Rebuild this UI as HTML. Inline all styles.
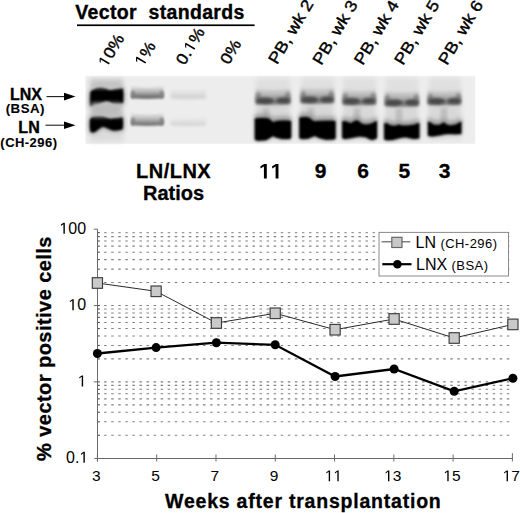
<!DOCTYPE html>
<html><head><meta charset="utf-8"><style>
html,body{margin:0;padding:0;background:#fff;width:520px;height:513px;overflow:hidden}
svg{display:block}
text{font-family:"Liberation Sans",sans-serif}
</style></head><body><svg width="520" height="513" viewBox="0 0 520 513"><defs><filter id="b8" x="-50%" y="-50%" width="200%" height="200%"><feGaussianBlur stdDeviation="0.85"/></filter><filter id="b9" x="-50%" y="-50%" width="200%" height="200%"><feGaussianBlur stdDeviation="0.9"/></filter><filter id="b12" x="-50%" y="-50%" width="200%" height="200%"><feGaussianBlur stdDeviation="1.2"/></filter><filter id="b13" x="-50%" y="-50%" width="200%" height="200%"><feGaussianBlur stdDeviation="1.3"/></filter><filter id="b14" x="-50%" y="-50%" width="200%" height="200%"><feGaussianBlur stdDeviation="1.4"/></filter><filter id="b16" x="-50%" y="-50%" width="200%" height="200%"><feGaussianBlur stdDeviation="1.6"/></filter><filter id="b18" x="-50%" y="-50%" width="200%" height="200%"><feGaussianBlur stdDeviation="1.8"/></filter><filter id="b20" x="-50%" y="-50%" width="200%" height="200%"><feGaussianBlur stdDeviation="2.0"/></filter><filter id="b22" x="-50%" y="-50%" width="200%" height="200%"><feGaussianBlur stdDeviation="2.2"/></filter><filter id="b25" x="-50%" y="-50%" width="200%" height="200%"><feGaussianBlur stdDeviation="2.5"/></filter><filter id="b28" x="-50%" y="-50%" width="200%" height="200%"><feGaussianBlur stdDeviation="2.8"/></filter></defs><rect x="85.5" y="76.2" width="389.7" height="67.5" fill="#ededed"/><rect x="89.5" y="78" width="34" height="64" fill="#dcdcdc" opacity="1" filter="url(#b25)"/><rect x="256" y="78" width="34" height="62" fill="#e0e0e0" opacity="1" filter="url(#b22)"/><rect x="301" y="78" width="33.39999999999998" height="62" fill="#e0e0e0" opacity="1" filter="url(#b22)"/><rect x="343.3" y="78" width="32.69999999999999" height="62" fill="#e0e0e0" opacity="1" filter="url(#b22)"/><rect x="385.6" y="78" width="32.599999999999966" height="62" fill="#e0e0e0" opacity="1" filter="url(#b22)"/><rect x="429" y="78" width="32" height="62" fill="#e0e0e0" opacity="1" filter="url(#b22)"/><path d="M90.5,92.0 L92.3,90.3 L94.7,89.1 L98.6,87.1 L102.4,87.3 L106.3,88.7 L109.3,90.3 L112.4,90.0 L116.2,89.1 L120.0,88.3 L123.0,88.7 L123.3,95.9 L123.1,102.9 L122.3,103.1 L117.7,103.9 L112.4,103.4 L109.3,101.4 L106.3,101.0 L102.4,102.2 L98.6,103.9 L94.7,105.5 L91.7,105.9 L90.4,105.4 L90.2,98.2 Z" fill="#2a2a2a" opacity="0.8" filter="url(#b28)"/><path d="M90.5,92.0 L92.3,90.3 L94.7,89.1 L98.6,87.1 L102.4,87.3 L106.3,88.7 L109.3,90.3 L112.4,90.0 L116.2,89.1 L120.0,88.3 L123.0,88.7 L123.3,95.9 L123.1,102.9 L122.3,103.1 L117.7,103.9 L112.4,103.4 L109.3,101.4 L106.3,101.0 L102.4,102.2 L98.6,103.9 L94.7,105.5 L91.7,105.9 L90.4,105.4 L90.2,98.2 Z" fill="#060606" opacity="1" filter="url(#b9)"/><path d="M90.0,119.6 L91.8,117.6 L94.4,116.3 L98.5,115.5 L102.8,115.9 L106.5,117.4 L110.4,118.7 L113.3,118.3 L117.0,117.7 L121.4,117.3 L122.7,117.8 L122.9,122.9 L122.7,129.2 L117.5,130.2 L113.0,130.6 L108.1,128.5 L104.4,126.8 L102.0,126.7 L98.6,129.1 L95.5,131.5 L93.4,132.4 L90.5,132.1 L89.9,126.3 Z" fill="#2a2a2a" opacity="0.8" filter="url(#b28)"/><path d="M90.0,119.6 L91.8,117.6 L94.4,116.3 L98.5,115.5 L102.8,115.9 L106.5,117.4 L110.4,118.7 L113.3,118.3 L117.0,117.7 L121.4,117.3 L122.7,117.8 L122.9,122.9 L122.7,129.2 L117.5,130.2 L113.0,130.6 L108.1,128.5 L104.4,126.8 L102.0,126.7 L98.6,129.1 L95.5,131.5 L93.4,132.4 L90.5,132.1 L89.9,126.3 Z" fill="#060606" opacity="1" filter="url(#b9)"/><rect x="91.5" y="103" width="30" height="14" fill="#bcbcbc" opacity="1" filter="url(#b22)"/><rect x="91" y="80.5" width="31" height="7.5" fill="#c2c2c2" opacity="1" filter="url(#b20)"/><linearGradient id="g13" x1="0" y1="0" x2="0" y2="1"><stop offset="0" stop-color="#c0c0c0" stop-opacity="0.15"/><stop offset="0.4" stop-color="#c0c0c0"/><stop offset="0.82" stop-color="#727272"/><stop offset="1" stop-color="#727272"/></linearGradient><path d="M131.1,85.5 L133.1,86.5 Q147.3,88.5 161.5,86.5 L163.5,85.5 L163.5,98.3 Q147.3,99.89999999999999 131.1,98.3 Z" fill="url(#g13)" opacity="1" filter="url(#b12)"/><linearGradient id="g15" x1="0" y1="0" x2="0" y2="1"><stop offset="0" stop-color="#c6c6c6" stop-opacity="0.15"/><stop offset="0.4" stop-color="#c6c6c6"/><stop offset="0.82" stop-color="#7c7c7c"/><stop offset="1" stop-color="#7c7c7c"/></linearGradient><path d="M131.1,112.5 L133.1,113.5 Q147.3,115.5 161.5,113.5 L163.5,112.5 L163.5,125.2 Q147.3,126.8 131.1,125.2 Z" fill="url(#g15)" opacity="1" filter="url(#b12)"/><ellipse cx="133.0" cy="94.5" rx="2.2" ry="4.0" fill="#808080" opacity="0.8" filter="url(#b13)"/><ellipse cx="161.8" cy="94.5" rx="2.2" ry="4.0" fill="#808080" opacity="0.8" filter="url(#b13)"/><ellipse cx="133.0" cy="121.5" rx="2.2" ry="4.0" fill="#808080" opacity="0.8" filter="url(#b13)"/><ellipse cx="161.8" cy="121.5" rx="2.2" ry="4.0" fill="#808080" opacity="0.8" filter="url(#b13)"/><linearGradient id="g21" x1="0" y1="0" x2="0" y2="1"><stop offset="0" stop-color="#e2e2e2" stop-opacity="0.15"/><stop offset="0.4" stop-color="#e2e2e2"/><stop offset="0.82" stop-color="#d2d2d2"/><stop offset="1" stop-color="#d2d2d2"/></linearGradient><path d="M170.6,88 L172.6,89 Q188.3,91 204,89 L206,88 L206,98.5 Q188.3,100.1 170.6,98.5 Z" fill="url(#g21)" opacity="1" filter="url(#b14)"/><linearGradient id="g23" x1="0" y1="0" x2="0" y2="1"><stop offset="0" stop-color="#e4e4e4" stop-opacity="0.15"/><stop offset="0.4" stop-color="#e4e4e4"/><stop offset="0.82" stop-color="#d6d6d6"/><stop offset="1" stop-color="#d6d6d6"/></linearGradient><path d="M170.6,116.5 L172.6,117.5 Q188.3,119.5 204,117.5 L206,116.5 L206,125.5 Q188.3,127.1 170.6,125.5 Z" fill="url(#g23)" opacity="1" filter="url(#b14)"/><rect x="257.5" y="102" width="31.0" height="18.5" fill="#d8d8d8" opacity="1" filter="url(#b22)"/><linearGradient id="g26" x1="0" y1="0" x2="0" y2="1"><stop offset="0" stop-color="#b9b9b9" stop-opacity="0.15"/><stop offset="0.4" stop-color="#b9b9b9"/><stop offset="0.82" stop-color="#7e7e7e"/><stop offset="1" stop-color="#7e7e7e"/></linearGradient><path d="M255.5,87.5 L257.5,88.5 Q273.0,90.5 288.5,88.5 L290.5,87.5 L290.5,104 Q273.0,105.6 255.5,104 Z" fill="url(#g26)" opacity="1" filter="url(#b18)"/><ellipse cx="258.3" cy="98.2" rx="2.8" ry="6.2" fill="#5e5e5e" opacity="0.55" filter="url(#b16)"/><ellipse cx="287.7" cy="97.8" rx="2.8" ry="6.2" fill="#5e5e5e" opacity="0.55" filter="url(#b16)"/><ellipse cx="265.3" cy="100.8" rx="8.8" ry="3.2" fill="#3c3c3c" opacity="0.85" filter="url(#b18)"/><ellipse cx="282.8" cy="100.5" rx="7.0" ry="3.0" fill="#3c3c3c" opacity="0.85" filter="url(#b18)"/><rect x="302.5" y="101" width="29.5" height="18.5" fill="#d8d8d8" opacity="1" filter="url(#b22)"/><linearGradient id="g33" x1="0" y1="0" x2="0" y2="1"><stop offset="0" stop-color="#b9b9b9" stop-opacity="0.15"/><stop offset="0.4" stop-color="#b9b9b9"/><stop offset="0.82" stop-color="#7e7e7e"/><stop offset="1" stop-color="#7e7e7e"/></linearGradient><path d="M300.5,86.5 L302.5,87.5 Q317.25,89.5 332,87.5 L334,86.5 L334,103 Q317.25,104.6 300.5,103 Z" fill="url(#g33)" opacity="1" filter="url(#b18)"/><ellipse cx="303.3" cy="97.2" rx="2.8" ry="6.2" fill="#5e5e5e" opacity="0.55" filter="url(#b16)"/><ellipse cx="331.2" cy="96.8" rx="2.8" ry="6.2" fill="#5e5e5e" opacity="0.55" filter="url(#b16)"/><ellipse cx="309.9" cy="99.8" rx="8.4" ry="3.2" fill="#3c3c3c" opacity="0.85" filter="url(#b18)"/><ellipse cx="326.6" cy="99.5" rx="6.7" ry="3.0" fill="#3c3c3c" opacity="0.85" filter="url(#b18)"/><rect x="344.5" y="102.5" width="29.5" height="20.5" fill="#d8d8d8" opacity="1" filter="url(#b22)"/><linearGradient id="g40" x1="0" y1="0" x2="0" y2="1"><stop offset="0" stop-color="#b9b9b9" stop-opacity="0.15"/><stop offset="0.4" stop-color="#b9b9b9"/><stop offset="0.82" stop-color="#7e7e7e"/><stop offset="1" stop-color="#7e7e7e"/></linearGradient><path d="M342.5,88.5 L344.5,89.5 Q359.25,91.5 374,89.5 L376,88.5 L376,104.5 Q359.25,106.1 342.5,104.5 Z" fill="url(#g40)" opacity="1" filter="url(#b18)"/><ellipse cx="345.3" cy="99.0" rx="2.8" ry="6.0" fill="#5e5e5e" opacity="0.55" filter="url(#b16)"/><ellipse cx="373.2" cy="98.5" rx="2.8" ry="6.0" fill="#5e5e5e" opacity="0.55" filter="url(#b16)"/><ellipse cx="351.9" cy="101.3" rx="8.4" ry="3.2" fill="#3c3c3c" opacity="0.85" filter="url(#b18)"/><ellipse cx="368.6" cy="101.0" rx="6.7" ry="3.0" fill="#3c3c3c" opacity="0.85" filter="url(#b18)"/><rect x="386.7" y="104" width="30.30000000000001" height="19.400000000000006" fill="#d8d8d8" opacity="1" filter="url(#b22)"/><linearGradient id="g47" x1="0" y1="0" x2="0" y2="1"><stop offset="0" stop-color="#b9b9b9" stop-opacity="0.15"/><stop offset="0.4" stop-color="#b9b9b9"/><stop offset="0.82" stop-color="#7e7e7e"/><stop offset="1" stop-color="#7e7e7e"/></linearGradient><path d="M384.7,90 L386.7,91 Q401.85,93 417,91 L419,90 L419,106 Q401.85,107.6 384.7,106 Z" fill="url(#g47)" opacity="1" filter="url(#b18)"/><ellipse cx="387.5" cy="100.5" rx="2.8" ry="6.0" fill="#5e5e5e" opacity="0.55" filter="url(#b16)"/><ellipse cx="416.2" cy="100.0" rx="2.8" ry="6.0" fill="#5e5e5e" opacity="0.55" filter="url(#b16)"/><ellipse cx="394.3" cy="102.8" rx="8.6" ry="3.2" fill="#3c3c3c" opacity="0.85" filter="url(#b18)"/><ellipse cx="411.5" cy="102.5" rx="6.9" ry="3.0" fill="#3c3c3c" opacity="0.85" filter="url(#b18)"/><rect x="429.5" y="102.5" width="29.69999999999999" height="20.900000000000006" fill="#d8d8d8" opacity="1" filter="url(#b22)"/><linearGradient id="g54" x1="0" y1="0" x2="0" y2="1"><stop offset="0" stop-color="#b9b9b9" stop-opacity="0.15"/><stop offset="0.4" stop-color="#b9b9b9"/><stop offset="0.82" stop-color="#7e7e7e"/><stop offset="1" stop-color="#7e7e7e"/></linearGradient><path d="M427.5,89 L429.5,90 Q444.35,92 459.2,90 L461.2,89 L461.2,104.5 Q444.35,106.1 427.5,104.5 Z" fill="url(#g54)" opacity="1" filter="url(#b18)"/><ellipse cx="430.3" cy="99.2" rx="2.8" ry="5.8" fill="#5e5e5e" opacity="0.55" filter="url(#b16)"/><ellipse cx="458.4" cy="98.8" rx="2.8" ry="5.8" fill="#5e5e5e" opacity="0.55" filter="url(#b16)"/><ellipse cx="436.9" cy="101.3" rx="8.4" ry="3.2" fill="#3c3c3c" opacity="0.85" filter="url(#b18)"/><ellipse cx="453.8" cy="101.0" rx="6.7" ry="3.0" fill="#3c3c3c" opacity="0.85" filter="url(#b18)"/><rect x="263.5" y="108" width="5" height="14" fill="#b4b4b4" opacity="1" filter="url(#b20)"/><path d="M254.8,114.6 L256.0,113.8 L262.0,113.5 L268.0,113.8 L271.0,115.7 L273.0,117.8 L275.0,116.9 L278.0,116.2 L285.0,116.0 L290.0,116.2 L291.2,117.1 L291.2,123.6 L290.0,122.7 L285.0,122.5 L278.0,122.7 L275.0,123.4 L273.0,124.3 L271.0,122.2 L268.0,120.3 L262.0,120.0 L256.0,120.3 L254.8,121.1 Z" fill="#9a9a9a" opacity="0.8" filter="url(#b20)"/><path d="M254.8,119.1 L256.0,118.3 L262.0,118.0 L268.0,118.3 L271.0,120.2 L273.0,122.3 L275.0,121.4 L278.0,120.7 L285.0,120.5 L290.0,120.7 L291.2,121.6 L291.2,138.0 L289.5,139.1 L282.0,139.1 L276.0,137.5 L273.0,135.9 L270.0,138.0 L266.0,140.3 L258.0,140.7 L255.5,140.3 L254.8,139.0 Z" fill="#3a3a3a" opacity="0.55" filter="url(#b20)"/><path d="M254.8,119.1 L256.0,118.3 L262.0,118.0 L268.0,118.3 L271.0,120.2 L273.0,122.3 L275.0,121.4 L278.0,120.7 L285.0,120.5 L290.0,120.7 L291.2,121.6 L291.2,138.0 L289.5,139.1 L282.0,139.1 L276.0,137.5 L273.0,135.9 L270.0,138.0 L266.0,140.3 L258.0,140.7 L255.5,140.3 L254.8,139.0 Z" fill="#060606" opacity="1" filter="url(#b8)"/><rect x="308.5" y="108" width="5" height="14" fill="#b4b4b4" opacity="1" filter="url(#b20)"/><path d="M299.3,113.6 L300.5,112.8 L306.0,112.6 L309.5,113.3 L312.0,115.4 L314.0,116.7 L318.0,116.4 L325.0,116.3 L333.0,116.2 L335.6,116.8 L335.6,123.3 L333.0,122.7 L325.0,122.8 L318.0,122.9 L314.0,123.2 L312.0,121.9 L309.5,119.8 L306.0,119.1 L300.5,119.3 L299.3,120.1 Z" fill="#9a9a9a" opacity="0.8" filter="url(#b20)"/><path d="M299.3,118.1 L300.5,117.3 L306.0,117.1 L309.5,117.8 L312.0,119.9 L314.0,121.2 L318.0,120.9 L325.0,120.8 L333.0,120.7 L335.6,121.3 L335.6,138.5 L334.0,139.5 L326.0,139.7 L319.0,138.0 L315.0,135.9 L312.0,137.0 L308.0,138.8 L302.0,139.0 L299.6,138.5 L299.3,137.5 Z" fill="#3a3a3a" opacity="0.55" filter="url(#b20)"/><path d="M299.3,118.1 L300.5,117.3 L306.0,117.1 L309.5,117.8 L312.0,119.9 L314.0,121.2 L318.0,120.9 L325.0,120.8 L333.0,120.7 L335.6,121.3 L335.6,138.5 L334.0,139.5 L326.0,139.7 L319.0,138.0 L315.0,135.9 L312.0,137.0 L308.0,138.8 L302.0,139.0 L299.6,138.5 L299.3,137.5 Z" fill="#060606" opacity="1" filter="url(#b8)"/><rect x="354.5" y="108" width="5" height="14" fill="#b4b4b4" opacity="1" filter="url(#b20)"/><path d="M342.2,117.1 L344.0,116.4 L347.0,117.3 L350.7,118.8 L353.5,117.1 L356.5,115.8 L358.5,116.4 L360.5,118.1 L362.6,119.6 L366.0,119.9 L370.0,119.4 L373.6,118.1 L376.1,116.4 L377.0,117.1 L377.0,123.6 L376.1,122.9 L373.6,124.6 L370.0,125.9 L366.0,126.4 L362.6,126.1 L360.5,124.6 L358.5,122.9 L356.5,122.3 L353.5,123.6 L350.7,125.3 L347.0,123.8 L344.0,122.9 L342.2,123.6 Z" fill="#9a9a9a" opacity="0.8" filter="url(#b20)"/><path d="M342.2,121.6 L344.0,120.9 L347.0,121.8 L350.7,123.3 L353.5,121.6 L356.5,120.3 L358.5,120.9 L360.5,122.6 L362.6,124.1 L366.0,124.4 L370.0,123.9 L373.6,122.6 L376.1,120.9 L377.0,121.6 L377.0,138.0 L375.5,139.0 L371.9,139.9 L368.5,138.7 L366.0,137.3 L360.0,136.5 L355.0,137.3 L349.0,138.5 L344.8,139.0 L342.5,138.5 L342.2,137.5 Z" fill="#3a3a3a" opacity="0.55" filter="url(#b20)"/><path d="M342.2,121.6 L344.0,120.9 L347.0,121.8 L350.7,123.3 L353.5,121.6 L356.5,120.3 L358.5,120.9 L360.5,122.6 L362.6,124.1 L366.0,124.4 L370.0,123.9 L373.6,122.6 L376.1,120.9 L377.0,121.6 L377.0,138.0 L375.5,139.0 L371.9,139.9 L368.5,138.7 L366.0,137.3 L360.0,136.5 L355.0,137.3 L349.0,138.5 L344.8,139.0 L342.5,138.5 L342.2,137.5 Z" fill="#060606" opacity="1" filter="url(#b8)"/><rect x="396.5" y="108" width="5" height="14" fill="#b4b4b4" opacity="1" filter="url(#b20)"/><path d="M384.2,118.9 L386.4,118.4 L391.0,121.0 L395.3,121.3 L398.6,119.9 L402.0,121.0 L408.0,121.0 L414.7,119.9 L418.1,118.4 L419.4,118.9 L419.4,125.4 L418.1,124.9 L414.7,126.4 L408.0,127.5 L402.0,127.5 L398.6,126.4 L395.3,127.8 L391.0,127.5 L386.4,124.9 L384.2,125.4 Z" fill="#9a9a9a" opacity="0.8" filter="url(#b20)"/><path d="M384.2,123.4 L386.4,122.9 L391.0,125.5 L395.3,125.8 L398.6,124.4 L402.0,125.5 L408.0,125.5 L414.7,124.4 L418.1,122.9 L419.4,123.4 L419.4,138.5 L413.9,139.0 L405.4,137.3 L401.2,137.7 L392.7,139.9 L386.8,140.3 L384.2,139.5 Z" fill="#3a3a3a" opacity="0.55" filter="url(#b20)"/><path d="M384.2,123.4 L386.4,122.9 L391.0,125.5 L395.3,125.8 L398.6,124.4 L402.0,125.5 L408.0,125.5 L414.7,124.4 L418.1,122.9 L419.4,123.4 L419.4,138.5 L413.9,139.0 L405.4,137.3 L401.2,137.7 L392.7,139.9 L386.8,140.3 L384.2,139.5 Z" fill="#060606" opacity="1" filter="url(#b8)"/><rect x="441.5" y="108" width="5" height="14" fill="#b4b4b4" opacity="1" filter="url(#b20)"/><path d="M427.9,117.1 L429.6,117.4 L433.9,120.3 L439.0,120.6 L442.3,118.8 L444.0,117.7 L446.2,119.8 L450.0,120.9 L455.9,120.0 L460.1,117.4 L461.4,117.1 L461.4,123.6 L460.1,123.9 L455.9,126.5 L450.0,127.4 L446.2,126.3 L444.0,124.2 L442.3,125.3 L439.0,127.1 L433.9,126.8 L429.6,123.9 L427.9,123.6 Z" fill="#9a9a9a" opacity="0.8" filter="url(#b20)"/><path d="M427.9,121.6 L429.6,121.9 L433.9,124.8 L439.0,125.1 L442.3,123.3 L444.0,122.2 L446.2,124.3 L450.0,125.4 L455.9,124.5 L460.1,121.9 L461.4,121.6 L461.4,134.0 L455.9,134.3 L450.0,133.9 L444.9,134.3 L439.0,135.6 L432.2,136.5 L428.8,136.0 L427.9,135.5 Z" fill="#3a3a3a" opacity="0.55" filter="url(#b20)"/><path d="M427.9,121.6 L429.6,121.9 L433.9,124.8 L439.0,125.1 L442.3,123.3 L444.0,122.2 L446.2,124.3 L450.0,125.4 L455.9,124.5 L460.1,121.9 L461.4,121.6 L461.4,134.0 L455.9,134.3 L450.0,133.9 L444.9,134.3 L439.0,135.6 L432.2,136.5 L428.8,136.0 L427.9,135.5 Z" fill="#060606" opacity="1" filter="url(#b8)"/><text x="75.3" y="19.2" font-family="Liberation Sans, sans-serif" font-weight="bold" font-size="19.5" letter-spacing="0.34" stroke="#000" stroke-width="0.35" xml:space="preserve">Vector  standards</text><rect x="77" y="24.4" width="177.6" height="1.7" fill="#000"/><g transform="translate(106.70,68.20) rotate(-59) scale(1.1,1)"><path transform="translate(0.00,0) scale(0.00781,-0.00781)" d="M515,0 L515,1237 L197,1010 L197,1180 L530,1409 L696,1409 L696,0 Z" fill="#000" stroke="#000" stroke-width="0.4"/><text x="8.90" y="0" font-family="Liberation Sans, sans-serif" font-size="16" fill="#000" stroke="#000" stroke-width="0.4">0</text><text x="17.80" y="0" font-family="Liberation Sans, sans-serif" font-size="16" fill="#000" stroke="#000" stroke-width="0.4">%</text></g><g transform="translate(143.10,67.40) rotate(-59) scale(1.1,1)"><path transform="translate(0.00,0) scale(0.00781,-0.00781)" d="M515,0 L515,1237 L197,1010 L197,1180 L530,1409 L696,1409 L696,0 Z" fill="#000" stroke="#000" stroke-width="0.4"/><text x="8.90" y="0" font-family="Liberation Sans, sans-serif" font-size="16" fill="#000" stroke="#000" stroke-width="0.4">%</text></g><g transform="translate(184.60,66.00) rotate(-59) scale(1.1,1)"><text x="0.00" y="0" font-family="Liberation Sans, sans-serif" font-size="16" fill="#000" stroke="#000" stroke-width="0.4">0</text><text x="8.90" y="0" font-family="Liberation Sans, sans-serif" font-size="16" fill="#000" stroke="#000" stroke-width="0.4">.</text><path transform="translate(13.34,0) scale(0.00781,-0.00781)" d="M515,0 L515,1237 L197,1010 L197,1180 L530,1409 L696,1409 L696,0 Z" fill="#000" stroke="#000" stroke-width="0.4"/><text x="22.24" y="0" font-family="Liberation Sans, sans-serif" font-size="16" fill="#000" stroke="#000" stroke-width="0.4">%</text></g><text transform="translate(228.7,65.4) rotate(-59) scale(1.1,1)" font-family="Liberation Sans, sans-serif" font-size="16" stroke="#000" stroke-width="0.4" xml:space="preserve">0%</text><text transform="translate(277.1,65.3) rotate(-59) scale(1.12,1)" font-family="Liberation Sans, sans-serif" font-size="16.2" stroke="#000" stroke-width="0.4" xml:space="preserve">PB, wk 2</text><text transform="translate(321.3,66) rotate(-59) scale(1.12,1)" font-family="Liberation Sans, sans-serif" font-size="16.2" stroke="#000" stroke-width="0.4" xml:space="preserve">PB, wk 3</text><text transform="translate(362.7,66) rotate(-59) scale(1.12,1)" font-family="Liberation Sans, sans-serif" font-size="16.2" stroke="#000" stroke-width="0.4" xml:space="preserve">PB, wk 4</text><text transform="translate(403,65.9) rotate(-59) scale(1.12,1)" font-family="Liberation Sans, sans-serif" font-size="16.2" stroke="#000" stroke-width="0.4" xml:space="preserve">PB, wk 5</text><text transform="translate(446.9,65.9) rotate(-59) scale(1.12,1)" font-family="Liberation Sans, sans-serif" font-size="16.2" stroke="#000" stroke-width="0.4" xml:space="preserve">PB, wk 6</text><text x="10" y="99.5" font-family="Liberation Sans, sans-serif" font-weight="bold" font-size="16" letter-spacing="0" stroke="#000" stroke-width="0.35">LNX</text><text x="25.3" y="113.4" font-family="Liberation Sans, sans-serif" font-weight="bold" font-size="13.3" letter-spacing="0.45" stroke="#000" stroke-width="0.1" text-anchor="middle">(BSA)</text><text x="18.2" y="132.7" font-family="Liberation Sans, sans-serif" font-weight="bold" font-size="16" letter-spacing="0.2" stroke="#000" stroke-width="0.35">LN</text><text x="28.9" y="147.2" font-family="Liberation Sans, sans-serif" font-weight="bold" font-size="13" letter-spacing="0.45" stroke="#000" stroke-width="0.1" text-anchor="middle">(CH-296)</text><line x1="46.5" y1="96.6" x2="66" y2="96.6" stroke="#111" stroke-width="1.05"/><path d="M64 92.8 L75.5 96.6 L64 100.4 Z" fill="#000"/><line x1="45.5" y1="125.2" x2="66" y2="125.2" stroke="#111" stroke-width="1.05"/><path d="M64 121.4 L75.5 125.2 L64 129 Z" fill="#000"/><text x="173.6" y="178.4" font-family="Liberation Sans, sans-serif" font-weight="bold" font-size="20" text-anchor="middle" letter-spacing="0.5" stroke="#000" stroke-width="0.3">LN/LNX</text><text x="173.6" y="199.7" font-family="Liberation Sans, sans-serif" font-weight="bold" font-size="20" text-anchor="middle" stroke="#000" stroke-width="0.3">Ratios</text><g transform="translate(270.70,178.40)"><path transform="translate(-11.68,0) scale(0.01025,-0.01025)" d="M478,0 L478,1170 L140,959 L140,1180 L493,1409 L759,1409 L759,0 Z" fill="#000" stroke="#000" stroke-width="0.3"/><path transform="translate(0.00,0) scale(0.01025,-0.01025)" d="M478,0 L478,1170 L140,959 L140,1180 L493,1409 L759,1409 L759,0 Z" fill="#000" stroke="#000" stroke-width="0.3"/></g><g transform="translate(320.70,178.40)"><text x="-5.84" y="0" font-family="Liberation Sans, sans-serif" font-size="21" font-weight="bold" fill="#000" stroke="#000" stroke-width="0.3">9</text></g><g transform="translate(363.00,178.40)"><text x="-5.84" y="0" font-family="Liberation Sans, sans-serif" font-size="21" font-weight="bold" fill="#000" stroke="#000" stroke-width="0.3">6</text></g><g transform="translate(404.30,178.40)"><text x="-5.84" y="0" font-family="Liberation Sans, sans-serif" font-size="21" font-weight="bold" fill="#000" stroke="#000" stroke-width="0.3">5</text></g><g transform="translate(444.50,178.40)"><text x="-5.84" y="0" font-family="Liberation Sans, sans-serif" font-size="21" font-weight="bold" fill="#000" stroke="#000" stroke-width="0.3">3</text></g><line x1="104.1" y1="435.27" x2="510" y2="435.27" stroke="#808080" stroke-width="1.1" stroke-dasharray="2.5 4.565"/><line x1="97.4" y1="435.27" x2="99.8" y2="435.27" stroke="#444" stroke-width="1.1"/><line x1="104.1" y1="421.82" x2="510" y2="421.82" stroke="#808080" stroke-width="1.1" stroke-dasharray="2.5 4.565"/><line x1="97.4" y1="421.82" x2="99.8" y2="421.82" stroke="#444" stroke-width="1.1"/><line x1="104.1" y1="412.28" x2="510" y2="412.28" stroke="#808080" stroke-width="1.1" stroke-dasharray="2.5 4.565"/><line x1="97.4" y1="412.28" x2="99.8" y2="412.28" stroke="#444" stroke-width="1.1"/><line x1="104.1" y1="404.88" x2="510" y2="404.88" stroke="#808080" stroke-width="1.1" stroke-dasharray="2.5 4.565"/><line x1="97.4" y1="404.88" x2="99.8" y2="404.88" stroke="#444" stroke-width="1.1"/><line x1="104.1" y1="398.84" x2="510" y2="398.84" stroke="#808080" stroke-width="1.1" stroke-dasharray="2.5 4.565"/><line x1="97.4" y1="398.84" x2="99.8" y2="398.84" stroke="#444" stroke-width="1.1"/><line x1="104.1" y1="393.73" x2="510" y2="393.73" stroke="#808080" stroke-width="1.1" stroke-dasharray="2.5 4.565"/><line x1="97.4" y1="393.73" x2="99.8" y2="393.73" stroke="#444" stroke-width="1.1"/><line x1="104.1" y1="389.30" x2="510" y2="389.30" stroke="#808080" stroke-width="1.1" stroke-dasharray="2.5 4.565"/><line x1="97.4" y1="389.30" x2="99.8" y2="389.30" stroke="#444" stroke-width="1.1"/><line x1="104.1" y1="385.39" x2="510" y2="385.39" stroke="#808080" stroke-width="1.1" stroke-dasharray="2.5 4.565"/><line x1="97.4" y1="385.39" x2="99.8" y2="385.39" stroke="#444" stroke-width="1.1"/><line x1="104.1" y1="381.90" x2="510" y2="381.90" stroke="#808080" stroke-width="1.1" stroke-dasharray="2.5 4.565"/><line x1="97.4" y1="381.90" x2="99.8" y2="381.90" stroke="#444" stroke-width="1.1"/><line x1="104.1" y1="358.92" x2="510" y2="358.92" stroke="#808080" stroke-width="1.1" stroke-dasharray="2.5 4.565"/><line x1="97.4" y1="358.92" x2="99.8" y2="358.92" stroke="#444" stroke-width="1.1"/><line x1="104.1" y1="345.47" x2="510" y2="345.47" stroke="#808080" stroke-width="1.1" stroke-dasharray="2.5 4.565"/><line x1="97.4" y1="345.47" x2="99.8" y2="345.47" stroke="#444" stroke-width="1.1"/><line x1="104.1" y1="335.93" x2="510" y2="335.93" stroke="#808080" stroke-width="1.1" stroke-dasharray="2.5 4.565"/><line x1="97.4" y1="335.93" x2="99.8" y2="335.93" stroke="#444" stroke-width="1.1"/><line x1="104.1" y1="328.53" x2="510" y2="328.53" stroke="#808080" stroke-width="1.1" stroke-dasharray="2.5 4.565"/><line x1="97.4" y1="328.53" x2="99.8" y2="328.53" stroke="#444" stroke-width="1.1"/><line x1="104.1" y1="322.49" x2="510" y2="322.49" stroke="#808080" stroke-width="1.1" stroke-dasharray="2.5 4.565"/><line x1="97.4" y1="322.49" x2="99.8" y2="322.49" stroke="#444" stroke-width="1.1"/><line x1="104.1" y1="317.38" x2="510" y2="317.38" stroke="#808080" stroke-width="1.1" stroke-dasharray="2.5 4.565"/><line x1="97.4" y1="317.38" x2="99.8" y2="317.38" stroke="#444" stroke-width="1.1"/><line x1="104.1" y1="312.95" x2="510" y2="312.95" stroke="#808080" stroke-width="1.1" stroke-dasharray="2.5 4.565"/><line x1="97.4" y1="312.95" x2="99.8" y2="312.95" stroke="#444" stroke-width="1.1"/><line x1="104.1" y1="309.04" x2="510" y2="309.04" stroke="#808080" stroke-width="1.1" stroke-dasharray="2.5 4.565"/><line x1="97.4" y1="309.04" x2="99.8" y2="309.04" stroke="#444" stroke-width="1.1"/><line x1="104.1" y1="305.55" x2="510" y2="305.55" stroke="#808080" stroke-width="1.1" stroke-dasharray="2.5 4.565"/><line x1="97.4" y1="305.55" x2="99.8" y2="305.55" stroke="#444" stroke-width="1.1"/><line x1="104.1" y1="282.57" x2="510" y2="282.57" stroke="#808080" stroke-width="1.1" stroke-dasharray="2.5 4.565"/><line x1="97.4" y1="282.57" x2="99.8" y2="282.57" stroke="#444" stroke-width="1.1"/><line x1="104.1" y1="269.12" x2="510" y2="269.12" stroke="#808080" stroke-width="1.1" stroke-dasharray="2.5 4.565"/><line x1="97.4" y1="269.12" x2="99.8" y2="269.12" stroke="#444" stroke-width="1.1"/><line x1="104.1" y1="259.58" x2="510" y2="259.58" stroke="#808080" stroke-width="1.1" stroke-dasharray="2.5 4.565"/><line x1="97.4" y1="259.58" x2="99.8" y2="259.58" stroke="#444" stroke-width="1.1"/><line x1="104.1" y1="252.18" x2="510" y2="252.18" stroke="#808080" stroke-width="1.1" stroke-dasharray="2.5 4.565"/><line x1="97.4" y1="252.18" x2="99.8" y2="252.18" stroke="#444" stroke-width="1.1"/><line x1="104.1" y1="246.14" x2="510" y2="246.14" stroke="#808080" stroke-width="1.1" stroke-dasharray="2.5 4.565"/><line x1="97.4" y1="246.14" x2="99.8" y2="246.14" stroke="#444" stroke-width="1.1"/><line x1="104.1" y1="241.03" x2="510" y2="241.03" stroke="#808080" stroke-width="1.1" stroke-dasharray="2.5 4.565"/><line x1="97.4" y1="241.03" x2="99.8" y2="241.03" stroke="#444" stroke-width="1.1"/><line x1="104.1" y1="236.60" x2="510" y2="236.60" stroke="#808080" stroke-width="1.1" stroke-dasharray="2.5 4.565"/><line x1="97.4" y1="236.60" x2="99.8" y2="236.60" stroke="#444" stroke-width="1.1"/><line x1="104.1" y1="232.69" x2="510" y2="232.69" stroke="#808080" stroke-width="1.1" stroke-dasharray="2.5 4.565"/><line x1="97.4" y1="232.69" x2="99.8" y2="232.69" stroke="#444" stroke-width="1.1"/><line x1="97.5" y1="229.2" x2="97.5" y2="461.5" stroke="#6a6a6a" stroke-width="1"/><line x1="94.3" y1="458.5" x2="512.4" y2="458.5" stroke="#6a6a6a" stroke-width="1"/><line x1="93.8" y1="229.20" x2="97.4" y2="229.20" stroke="#6a6a6a" stroke-width="1"/><line x1="93.8" y1="305.55" x2="97.4" y2="305.55" stroke="#6a6a6a" stroke-width="1"/><line x1="93.8" y1="381.90" x2="97.4" y2="381.90" stroke="#6a6a6a" stroke-width="1"/><line x1="97.40" y1="454.5" x2="97.40" y2="461.5" stroke="#6a6a6a" stroke-width="1"/><g transform="translate(96.30,481.20)"><text x="-4.31" y="0" font-family="Liberation Sans, sans-serif" font-size="15.5" fill="#000" >3</text></g><line x1="156.69" y1="454.5" x2="156.69" y2="461.5" stroke="#6a6a6a" stroke-width="1"/><g transform="translate(155.59,481.20)"><text x="-4.31" y="0" font-family="Liberation Sans, sans-serif" font-size="15.5" fill="#000" >5</text></g><line x1="215.97" y1="454.5" x2="215.97" y2="461.5" stroke="#6a6a6a" stroke-width="1"/><g transform="translate(214.87,481.20)"><text x="-4.31" y="0" font-family="Liberation Sans, sans-serif" font-size="15.5" fill="#000" >7</text></g><line x1="275.26" y1="454.5" x2="275.26" y2="461.5" stroke="#6a6a6a" stroke-width="1"/><g transform="translate(274.16,481.20)"><text x="-4.31" y="0" font-family="Liberation Sans, sans-serif" font-size="15.5" fill="#000" >9</text></g><line x1="334.54" y1="454.5" x2="334.54" y2="461.5" stroke="#6a6a6a" stroke-width="1"/><g transform="translate(333.44,481.20)"><path transform="translate(-8.62,0) scale(0.00757,-0.00757)" d="M515,0 L515,1237 L197,1010 L197,1180 L530,1409 L696,1409 L696,0 Z" fill="#000" /><path transform="translate(0.00,0) scale(0.00757,-0.00757)" d="M515,0 L515,1237 L197,1010 L197,1180 L530,1409 L696,1409 L696,0 Z" fill="#000" /></g><line x1="393.83" y1="454.5" x2="393.83" y2="461.5" stroke="#6a6a6a" stroke-width="1"/><g transform="translate(392.73,481.20)"><path transform="translate(-8.62,0) scale(0.00757,-0.00757)" d="M515,0 L515,1237 L197,1010 L197,1180 L530,1409 L696,1409 L696,0 Z" fill="#000" /><text x="0.00" y="0" font-family="Liberation Sans, sans-serif" font-size="15.5" fill="#000" >3</text></g><line x1="453.12" y1="454.5" x2="453.12" y2="461.5" stroke="#6a6a6a" stroke-width="1"/><g transform="translate(452.02,481.20)"><path transform="translate(-8.62,0) scale(0.00757,-0.00757)" d="M515,0 L515,1237 L197,1010 L197,1180 L530,1409 L696,1409 L696,0 Z" fill="#000" /><text x="0.00" y="0" font-family="Liberation Sans, sans-serif" font-size="15.5" fill="#000" >5</text></g><line x1="512.40" y1="453.2" x2="512.40" y2="461.5" stroke="#6a6a6a" stroke-width="1"/><g transform="translate(511.30,481.20)"><path transform="translate(-8.62,0) scale(0.00757,-0.00757)" d="M515,0 L515,1237 L197,1010 L197,1180 L530,1409 L696,1409 L696,0 Z" fill="#000" /><text x="0.00" y="0" font-family="Liberation Sans, sans-serif" font-size="15.5" fill="#000" >7</text></g><g transform="translate(86.10,233.80)"><path transform="translate(-26.70,0) scale(0.00781,-0.00781)" d="M515,0 L515,1237 L197,1010 L197,1180 L530,1409 L696,1409 L696,0 Z" fill="#000" /><text x="-17.80" y="0" font-family="Liberation Sans, sans-serif" font-size="16" fill="#000" >0</text><text x="-8.90" y="0" font-family="Liberation Sans, sans-serif" font-size="16" fill="#000" >0</text></g><g transform="translate(86.10,310.15)"><path transform="translate(-17.80,0) scale(0.00781,-0.00781)" d="M515,0 L515,1237 L197,1010 L197,1180 L530,1409 L696,1409 L696,0 Z" fill="#000" /><text x="-8.90" y="0" font-family="Liberation Sans, sans-serif" font-size="16" fill="#000" >0</text></g><g transform="translate(86.60,386.50)"><path transform="translate(-8.90,0) scale(0.00781,-0.00781)" d="M515,0 L515,1237 L197,1010 L197,1180 L530,1409 L696,1409 L696,0 Z" fill="#000" /></g><g transform="translate(88.30,462.85)"><text x="-22.24" y="0" font-family="Liberation Sans, sans-serif" font-size="16" fill="#000" >0</text><text x="-13.34" y="0" font-family="Liberation Sans, sans-serif" font-size="16" fill="#000" >.</text><path transform="translate(-8.90,0) scale(0.00781,-0.00781)" d="M515,0 L515,1237 L197,1010 L197,1180 L530,1409 L696,1409 L696,0 Z" fill="#000" /></g><text x="303.3" y="508" font-family="Liberation Sans, sans-serif" font-weight="bold" font-size="19.5" text-anchor="middle" letter-spacing="0.78" stroke="#000" stroke-width="0.3">Weeks after transplantation</text><text transform="translate(50.7,348.5) rotate(-90)" font-family="Liberation Sans, sans-serif" font-weight="bold" font-size="20" text-anchor="middle" letter-spacing="0.45" stroke="#000" stroke-width="0.3">% vector positive cells</text><polyline points="97.4,283 156.1,291.3 216.4,323 275.2,313.3 335.1,329.7 394.1,319 454.2,338 512.9,324.4" fill="none" stroke="#2a2a2a" stroke-width="1"/><polyline points="97.4,353.5 156.1,347.6 216.4,342.7 275.2,344.8 335.1,376.5 394.1,369 454.2,391.3 512.9,378.3" fill="none" stroke="#000" stroke-width="2.3"/><rect x="92.30" y="277.70" width="10.2" height="10.6" fill="#cacaca" stroke="#3c3c3c" stroke-width="1.15"/><rect x="151.00" y="286.00" width="10.2" height="10.6" fill="#cacaca" stroke="#3c3c3c" stroke-width="1.15"/><rect x="211.30" y="317.70" width="10.2" height="10.6" fill="#cacaca" stroke="#3c3c3c" stroke-width="1.15"/><rect x="270.10" y="308.00" width="10.2" height="10.6" fill="#cacaca" stroke="#3c3c3c" stroke-width="1.15"/><rect x="330.00" y="324.40" width="10.2" height="10.6" fill="#cacaca" stroke="#3c3c3c" stroke-width="1.15"/><rect x="389.00" y="313.70" width="10.2" height="10.6" fill="#cacaca" stroke="#3c3c3c" stroke-width="1.15"/><rect x="449.10" y="332.70" width="10.2" height="10.6" fill="#cacaca" stroke="#3c3c3c" stroke-width="1.15"/><rect x="507.80" y="319.10" width="10.2" height="10.6" fill="#cacaca" stroke="#3c3c3c" stroke-width="1.15"/><circle cx="97.4" cy="353.5" r="4.5" fill="#000"/><circle cx="156.1" cy="347.6" r="4.5" fill="#000"/><circle cx="216.4" cy="342.7" r="4.5" fill="#000"/><circle cx="275.2" cy="344.8" r="4.5" fill="#000"/><circle cx="335.1" cy="376.5" r="4.5" fill="#000"/><circle cx="394.1" cy="369" r="4.5" fill="#000"/><circle cx="454.2" cy="391.3" r="4.5" fill="#000"/><circle cx="512.9" cy="378.3" r="4.5" fill="#000"/><rect x="379" y="232.4" width="129.5" height="43.6" fill="#fff" stroke="#8a8a8a" stroke-width="1"/><line x1="381.5" y1="241.8" x2="410.3" y2="241.8" stroke="#555" stroke-width="1.1"/><rect x="391.8" y="237.3" width="10.2" height="10.2" fill="#c8c8c8" stroke="#666" stroke-width="1.2"/><line x1="382.3" y1="264.2" x2="411.5" y2="264.2" stroke="#000" stroke-width="2.2"/><circle cx="397.4" cy="264.2" r="4.3" fill="#000"/><text x="415.5" y="248.3" font-family="Liberation Sans, sans-serif" font-size="16">LN <tspan font-size="13" letter-spacing="0.45">(CH-296)</tspan></text><text x="416" y="269.5" font-family="Liberation Sans, sans-serif" font-size="16">LNX <tspan font-size="13" letter-spacing="0.45">(BSA)</tspan></text></svg></body></html>
